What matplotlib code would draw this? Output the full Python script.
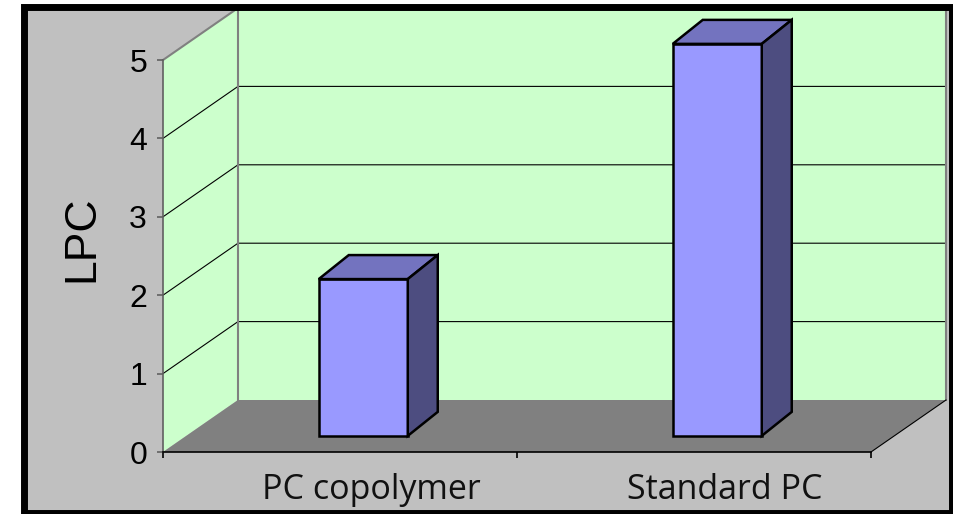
import numpy as np
import matplotlib
matplotlib.use('Agg')
import matplotlib.pyplot as plt
from matplotlib.patches import Polygon, Rectangle
import matplotlib.transforms as mtransforms

categories = ['PC copolymer', 'Standard PC']
lpc = [2.0, 5.0]
y_ticks = [0, 1, 2, 3, 4, 5]

W, H = 954, 514
fig = plt.figure(figsize=(W / 100, H / 100), dpi=100)
fig.patch.set_facecolor('white')

def fx(p):
    return p / W

def fy(p):
    return 1 - p / H

# grey chart area with thick black frame
fig.add_artist(Rectangle((fx(24.5), fy(512.5)), fx(952.5) - fx(24.5), fy(6.5) - fy(512.5),
                         transform=fig.transFigure, facecolor='#C0C0C0', edgecolor='none', zorder=-1))
fig.add_artist(Rectangle((fx(24.5), fy(512.5)), fx(952.5) - fx(24.5), fy(6.5) - fy(512.5),
                         transform=fig.transFigure, fill=False, edgecolor='black', linewidth=5.0, zorder=10))

# front plane of the plot
ax = fig.add_axes([fx(163), 62 / H, 708 / W, 392 / H])
ax.set_xlim(0, len(categories))
ax.set_ylim(0, 5)
ax.patch.set_visible(False)

# oblique depth of the walls (data units per full depth)
DX = 75 / 354
DY = 52 / 78.4

def proj(x, v, d):
    return x + d * DX, v + d * DY

ncat = len(categories)
top = y_ticks[-1]

# walls and floor
back = [proj(0, 0, 1), proj(ncat, 0, 1), proj(ncat, top, 1), proj(0, top, 1)]
side = [proj(0, 0, 0), proj(0, top, 0), proj(0, top, 1), proj(0, 0, 1)]
floor = [proj(0, 0, 0), proj(ncat, 0, 0), proj(ncat, 0, 1), proj(0, 0, 1)]
for pts, col in [(back, '#CCFFCC'), (side, '#CCFFCC'), (floor, '#808080')]:
    ax.add_patch(Polygon(pts, closed=True, facecolor=col, edgecolor='none', clip_on=False, zorder=0.5))

# gridlines
for v in y_ticks[1:-1]:
    xa, ya = proj(0, v, 0)
    xb, yb = proj(0, v, 1)
    xc, yc = proj(ncat, v, 1)
    ax.plot([xa, xb, xc], [ya, yb, yc], color='black', lw=0.8, clip_on=False, zorder=1)

# wall edges
xa, ya = proj(0, top, 0)
xb, yb = proj(0, top, 1)
ax.plot([xa, xb], [ya, yb], color='#808080', lw=1.5, clip_on=False, zorder=1)
for xe in [0, ncat]:
    x0, y0 = proj(xe, 0, 1)
    x1, y1 = proj(xe, top, 1)
    ax.plot([x0, x1], [y0, y1], color='#808080', lw=1.5, clip_on=False, zorder=1)
x0, y0 = proj(ncat, 0, 0)
x1, y1 = proj(ncat, 0, 1)
ax.plot([x0, x1], [y0, y1], color='black', lw=0.8, clip_on=False, zorder=1)

# 3D bars
d0 = 0.31
hw = 89 / 354 / 2
BDX = 30 / 354
BDY = 24 / 78.4
for i, v in enumerate(lpc):
    x0 = i + 0.5 - hw + d0 * DX
    x1 = i + 0.5 + hw + d0 * DX
    yb = d0 * DY
    yt = v + d0 * DY
    front = [(x0, yb), (x1, yb), (x1, yt), (x0, yt)]
    topf = [(x0, yt), (x1, yt), (x1 + BDX, yt + BDY), (x0 + BDX, yt + BDY)]
    sidef = [(x1, yb), (x1 + BDX, yb + BDY), (x1 + BDX, yt + BDY), (x1, yt)]
    for pts, col in [(front, '#9999FF'), (topf, '#7373BF'), (sidef, '#4D4D80')]:
        ax.add_patch(Polygon(pts, closed=True, facecolor=col, edgecolor='black',
                             linewidth=1.8, joinstyle='miter', clip_on=False, zorder=3))

# axes
for s in ['top', 'right']:
    ax.spines[s].set_visible(False)
ax.spines['left'].set_color('#606060')
ax.spines['left'].set_linewidth(1.2)
ax.spines['bottom'].set_color('black')
ax.spines['bottom'].set_linewidth(1.2)
ax.set_yticks(y_ticks)
ax.set_yticklabels([str(t) for t in y_ticks], fontsize=23, family='Liberation Sans')
ax.tick_params(axis='y', direction='out', length=4.5, width=1.2, color='#606060', pad=7)
ax.set_xticks(np.arange(ncat + 1))
ax.set_xticklabels([])
ax.tick_params(axis='x', direction='out', length=4.5, width=1.2, color='black')

off = mtransforms.ScaledTranslation(0.31, -0.47, fig.dpi_scale_trans)
for i, c in enumerate(categories):
    ax.text(i + 0.5, 0, c, transform=ax.transData + off, ha='center', va='baseline',
            fontsize=24.5, family='Open Sans', color='#111111')

fig.text(fx(81.5), fy(239), 'LPC', rotation=90, ha='center', va='center',
         fontsize=32, family='Liberation Sans')

fig.savefig('out.png', dpi=100)
